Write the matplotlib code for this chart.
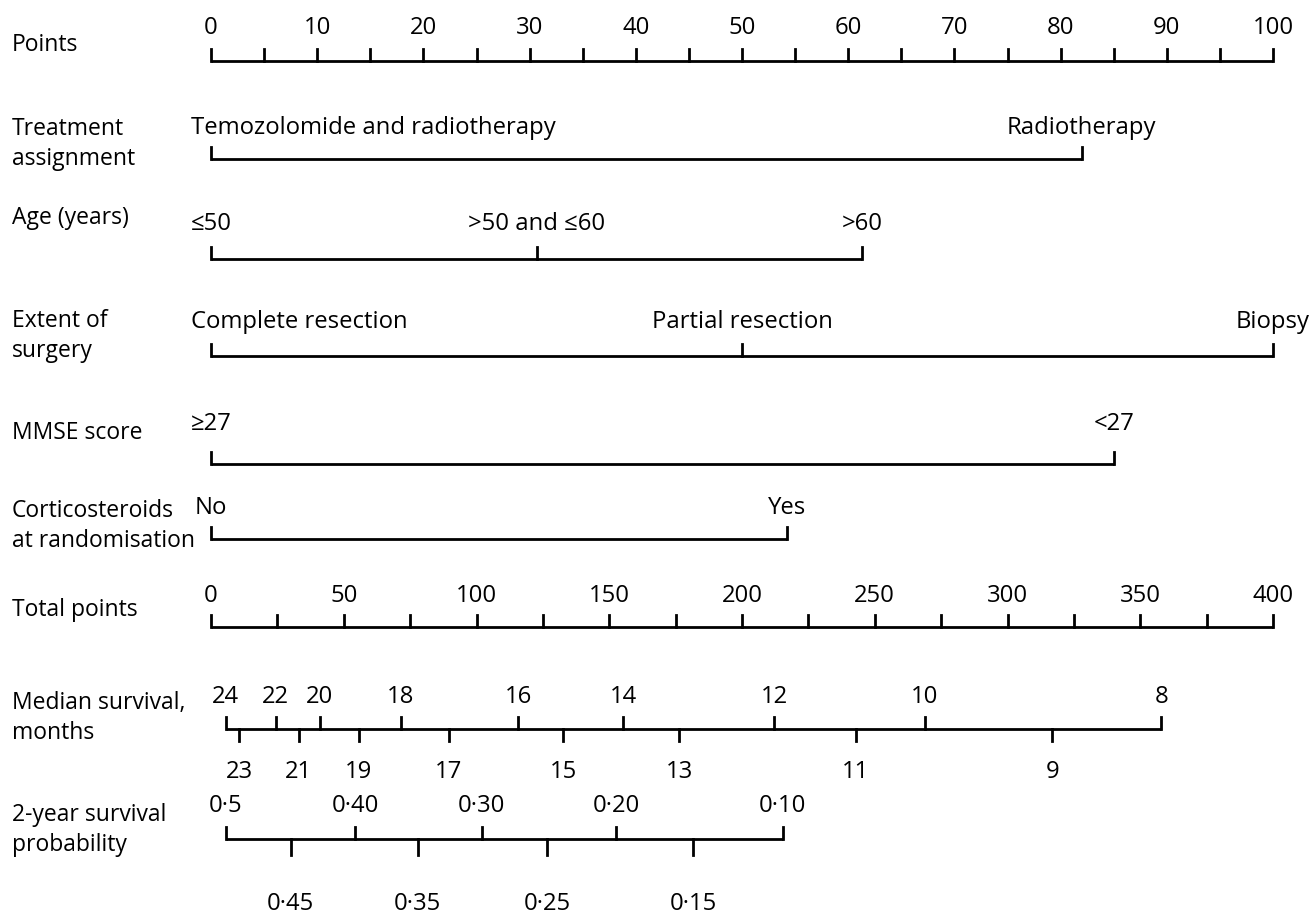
import matplotlib.pyplot as plt

plt.rcParams['font.family'] = ['Open Sans', 'DejaVu Sans']

# points scale
points_ticks = list(range(0, 101, 5))
points_labels = list(range(0, 101, 10))

# predictor rows: category names and the points for each category
treat_names = ['Temozolomide and radiotherapy', 'Radiotherapy']
treat_pts = [0, 82]
age_names = ['≤50', '>50 and ≤60', '>60']
age_pts = [0, 30.7, 61.3]
surgery_names = ['Complete resection', 'Partial resection', 'Biopsy']
surgery_pts = [0, 50, 100]
mmse_names = ['≥27', '<27']
mmse_pts = [0, 85]
cortico_names = ['No', 'Yes']
cortico_pts = [0, 54.2]

# total points scale
total_ticks = list(range(0, 401, 25))
total_labels = list(range(0, 401, 50))

# median survival (months) at total points
median_months = [24, 23, 22, 21, 20, 19, 18, 17, 16, 15, 14, 13, 12, 11, 10, 9, 8]
median_total = [5.5, 10.7, 24.4, 33, 41, 55.6, 71.4, 89.5, 115.8, 132.7,
                155.3, 176.3, 212.2, 242.9, 268.8, 316.9, 357.9]

# 2-year survival probability at total points
surv_labels = ['0·5', '0·45', '0·40', '0·35', '0·30', '0·25', '0·20', '0·15', '0·10']
surv_total = [5.5, 30, 54.4, 77.8, 101.9, 126.5, 152.6, 181.5, 215.4]

fig = plt.figure(figsize=(13.12, 9.2), dpi=100)
ax = fig.add_axes([0, 0, 1, 1])
PX = 10.62  # pixels per point
ax.set_xlim(-211 / PX, 100 + 39 / PX)
ax.set_ylim(920, 0)
ax.axis('off')

LW = 2.0
FS = 17.2
FS_ROW = 16.5
TICK = 12  # tick length in pixel rows
pad = 20 / PX


def row_label(y, text):
    ax.text(-199 / PX, y, text, ha='left', va='center', fontsize=FS_ROW, linespacing=1.35)


def scale(y, ticks):
    ax.plot([min(ticks), max(ticks)], [y, y], color='black', lw=LW, solid_capstyle='butt')
    for t in ticks:
        ax.plot([t, t], [y, y - TICK], color='black', lw=LW)


def factor(y, names, pts, label_y):
    scale(y, pts)
    for i, (n, p) in enumerate(zip(names, pts)):
        if i == 0 and len(n) > 6:
            ax.text(p - pad, label_y, n, ha='left', va='center', fontsize=FS)
        else:
            ax.text(p, label_y, n, ha='center', va='center', fontsize=FS)


# Points
row_label(45, 'Points')
scale(62, points_ticks)
for v in points_labels:
    ax.text(v, 28, str(v), ha='center', va='center', fontsize=FS)

row_label(144, 'Treatment\nassignment')
factor(160, treat_names, treat_pts, 128)

row_label(218, 'Age (years)')
factor(260, age_names, age_pts, 224)

row_label(336, 'Extent of\nsurgery')
factor(357, surgery_names, surgery_pts, 322)

row_label(433, 'MMSE score')
factor(465, mmse_names, mmse_pts, 424)

row_label(526, 'Corticosteroids\nat randomisation')
factor(540, cortico_names, cortico_pts, 508)

# Total points (0-400 mapped onto 0-100)
row_label(610, 'Total points')
scale(628, [t / 4 for t in total_ticks])
for v in total_labels:
    ax.text(v / 4, 596, str(v), ha='center', va='center', fontsize=FS)

# Median survival
row_label(718, 'Median survival,\nmonths')
y = 730
mx = [t / 4 for t in median_total]
ax.plot([min(mx), max(mx)], [y, y], color='black', lw=LW, solid_capstyle='butt')
for m, x in zip(median_months, mx):
    if m % 2 == 0:
        ax.plot([x, x], [y, y - TICK], color='black', lw=LW)
        ax.text(x, 697, str(m), ha='center', va='center', fontsize=FS)
    else:
        ax.plot([x, x], [y, y + TICK], color='black', lw=LW)
        ax.text(x, 772, str(m), ha='center', va='center', fontsize=FS)

# 2-year survival probability
row_label(830, '2-year survival\nprobability')
y = 840
sx = [t / 4 for t in surv_total]
ax.plot([min(sx), max(sx)], [y, y], color='black', lw=LW, solid_capstyle='butt')
for i, (lab, x) in enumerate(zip(surv_labels, sx)):
    if i % 2 == 0:
        ax.plot([x, x], [y, y - TICK], color='black', lw=LW)
        ax.text(x, 806, lab, ha='center', va='center', fontsize=FS)
    else:
        ax.plot([x, x], [y, y + TICK + 4], color='black', lw=LW)
        ax.text(x, 904, lab, ha='center', va='center', fontsize=FS)

fig.savefig('out.png', dpi=100)
